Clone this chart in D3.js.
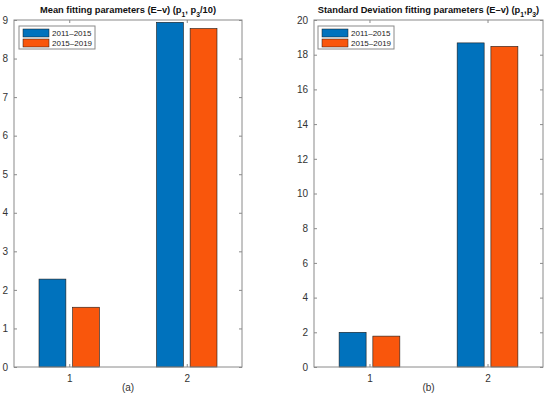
<!DOCTYPE html>
<html><head><meta charset="utf-8">
<script src="https://cdn.jsdelivr.net/npm/d3@7"></script>
<style>body{margin:0;background:#fff}svg{display:block}text{font-family:"Liberation Sans",Arial,sans-serif}</style>
</head><body>
<script>
const categories = [1, 2];
const seriesNames = ["2011–2015", "2015–2019"];
const meanA = [2.28, 8.94];   // 2011–2015
const meanB = [1.55, 8.78];   // 2015–2019
const sdA = [2.0, 18.68];
const sdB = [1.78, 18.48];
const yTicksLeft = [0,1,2,3,4,5,6,7,8,9];
const yTicksRight = [0,2,4,6,8,10,12,14,16,18,20];
const colors = ["#0072BD", "#F9560C"];

const W = 550, H = 398;
const svg = d3.select("body").append("svg").attr("width", W).attr("height", H);

function panel(opts) {
  const g = svg.append("g");
  const x = d3.scaleLinear().domain([0.53, 2.47]).range([opts.x0, opts.x1]);
  const y = d3.scaleLinear().domain([0, opts.ymax]).range([367, 20]);
  const bw = 0.2286, off = 0.1429;
  const series = [opts.a, opts.b];
  series.forEach((vals, si) => {
    g.selectAll(null).data(categories).enter().append("rect")
      .attr("x", (c) => x(c + (si === 0 ? -off : off) - bw/2))
      .attr("width", x(bw) - x(0))
      .attr("y", (c, i) => y(vals[i]))
      .attr("height", (c, i) => y(0) - y(vals[i]))
      .attr("fill", colors[si])
      .attr("stroke", "#1a1a1a").attr("stroke-width", 0.6);
  });
  g.append("rect").attr("x", opts.x0).attr("y", 20).attr("width", opts.x1 - opts.x0).attr("height", 347)
    .attr("fill", "none").attr("stroke", "#8a8a8a").attr("stroke-width", 1);
  const yAx = d3.axisLeft(y).tickValues(opts.yticks).tickSize(-3).tickPadding(6).tickFormat(d3.format("d"));
  const ya = g.append("g").attr("transform", `translate(${opts.x0},0)`).call(yAx);
  const yAxR = d3.axisRight(y).tickValues(opts.yticks).tickSize(-3).tickFormat("");
  const yr = g.append("g").attr("transform", `translate(${opts.x1},0)`).call(yAxR);
  const xAx = d3.axisBottom(x).tickValues(categories).tickSize(-3).tickPadding(8).tickFormat(d3.format("d"));
  const xa = g.append("g").attr("transform", `translate(0,367)`).call(xAx);
  const xAxT = d3.axisTop(x).tickValues(categories).tickSize(-3).tickFormat("");
  const xt = g.append("g").attr("transform", `translate(0,20)`).call(xAxT);
  [ya, yr, xa, xt].forEach(a => {
    a.select(".domain").remove();
    a.selectAll("line").attr("stroke", "#8a8a8a");
    a.selectAll("text").attr("font-size", 10).attr("fill", "#333");
  });
  const cx = (opts.x0 + opts.x1) / 2 + opts.tdx;
  const t = g.append("text").attr("x", cx).attr("y", 13).attr("text-anchor", "middle")
    .attr("font-size", 9.3).attr("font-weight", "bold").attr("fill", "#111");
  opts.title.forEach(p => {
    const ts = t.append("tspan").text(p.t);
    if (p.sub) ts.attr("baseline-shift", "sub").attr("font-size", 6.8);
  });
  g.append("text").attr("x", cx).attr("y", 391).attr("text-anchor", "middle")
    .attr("font-size", 10).attr("fill", "#333").text(opts.label);
  const lg = g.append("g").attr("transform", `translate(${opts.lx},26)`);
  lg.append("rect").attr("width", 76).attr("height", 23).attr("fill", "#fff")
    .attr("stroke", "#8a8a8a").attr("stroke-width", 1);
  seriesNames.forEach((n, i) => {
    lg.append("rect").attr("x", 4).attr("y", 3 + i * 10).attr("width", 26).attr("height", 8)
      .attr("fill", colors[i]).attr("stroke", "#1a1a1a").attr("stroke-width", 0.5);
    lg.append("text").attr("x", 33).attr("y", 10 + i * 10).attr("font-size", 8).attr("fill", "#222").text(n);
  });
}

panel({x0: 14, x1: 242, ymax: 9, yticks: yTicksLeft, a: meanA, b: meanB, label: "(a)", lx: 19, tdx: 0,
  title: [{t: "Mean fitting parameters (E–v) (p"}, {t: "1", sub: true}, {t: ", p"}, {t: "3", sub: true}, {t: "/10)"}]});
panel({x0: 314, x1: 543, ymax: 20, yticks: yTicksRight, a: sdA, b: sdB, label: "(b)", lx: 318, tdx: 0,
  title: [{t: "Standard Deviation fitting parameters (E–v) (p"}, {t: "1", sub: true}, {t: ",p"}, {t: "3", sub: true}, {t: ")"}]});
</script>
</body></html>
